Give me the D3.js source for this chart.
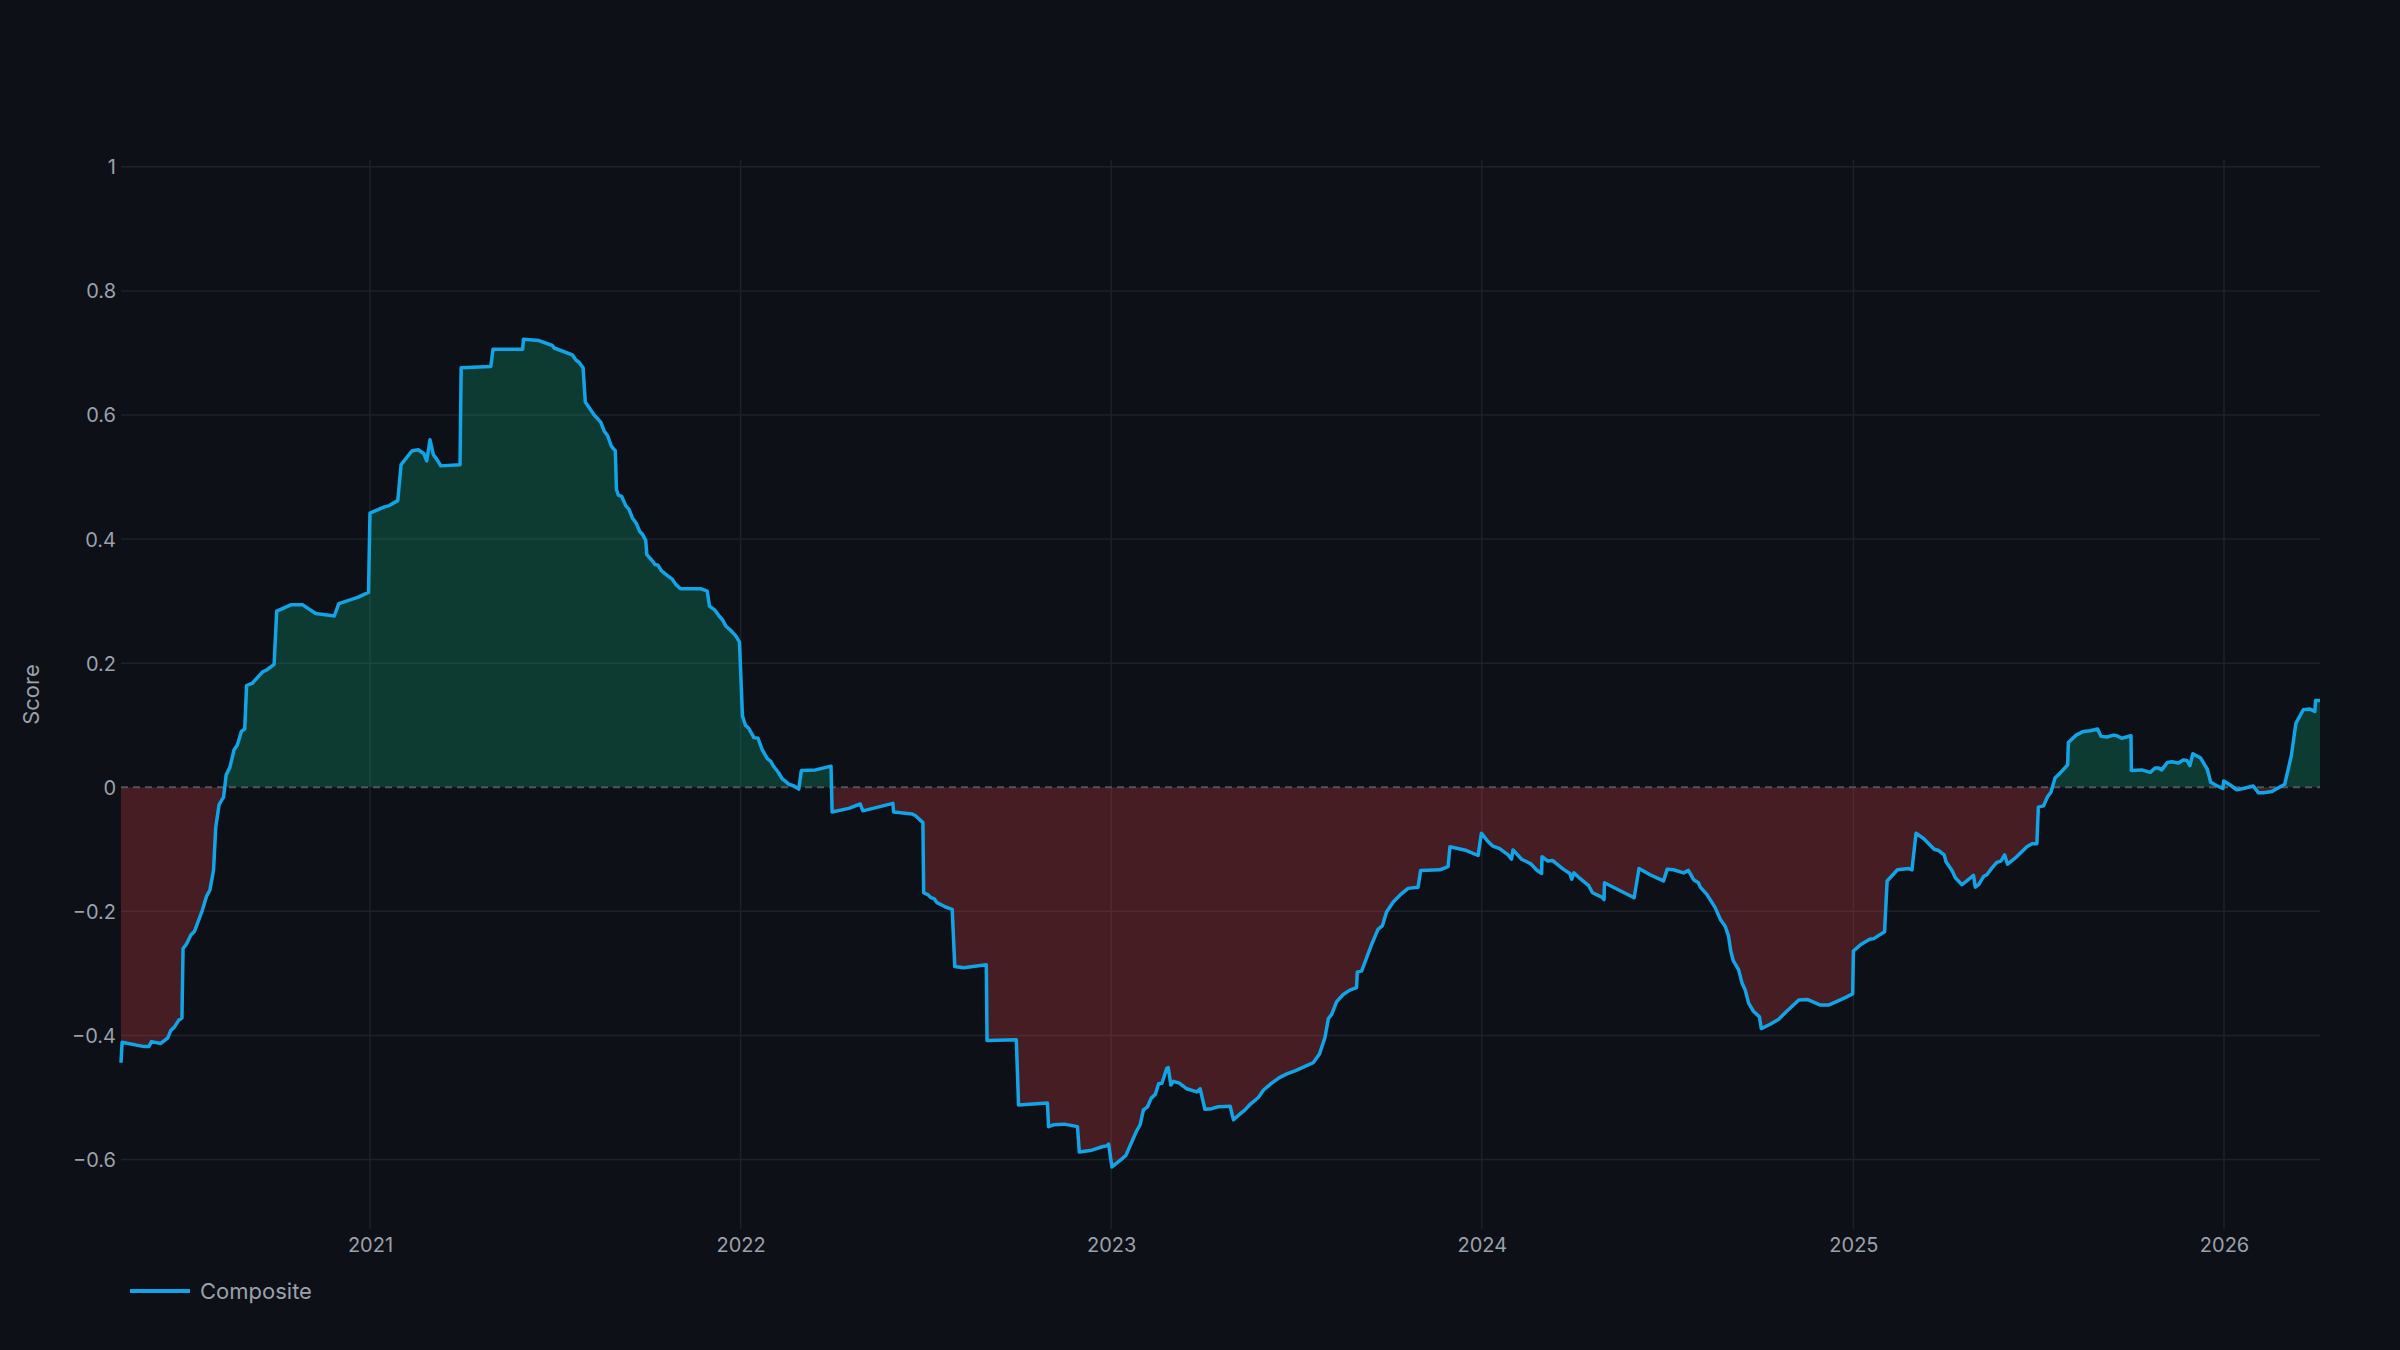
<!DOCTYPE html>
<html>
<head>
<meta charset="utf-8">
<script src="https://cdn.jsdelivr.net/npm/d3@7"></script>
<style>
  html, body { margin: 0; padding: 0; background: #0d1017; }
  svg { display: block; }
</style>
</head>
<body>
<div id="chart"></div>
<script>
// composite score, [decimal year, score]
const composite = [
  [2020.330, -0.444], [2020.333, -0.411], [2020.392, -0.418], [2020.405, -0.418], [2020.412, -0.410],
  [2020.437, -0.413], [2020.456, -0.404], [2020.464, -0.392], [2020.473, -0.387], [2020.486, -0.375],
  [2020.494, -0.372], [2020.497, -0.260], [2020.507, -0.252], [2020.518, -0.238], [2020.528, -0.232],
  [2020.549, -0.198], [2020.560, -0.176], [2020.569, -0.166], [2020.579, -0.134], [2020.585, -0.064],
  [2020.594, -0.028], [2020.606, -0.016], [2020.613, 0.020], [2020.623, 0.032], [2020.634, 0.060],
  [2020.643, 0.068], [2020.654, 0.090], [2020.663, 0.094], [2020.668, 0.164], [2020.684, 0.168],
  [2020.711, 0.186], [2020.722, 0.189], [2020.742, 0.198], [2020.749, 0.284], [2020.787, 0.294],
  [2020.819, 0.294], [2020.854, 0.280], [2020.904, 0.276], [2020.916, 0.296], [2020.967, 0.306],
  [2020.996, 0.314], [2021.000, 0.442], [2021.039, 0.452], [2021.052, 0.454], [2021.075, 0.462],
  [2021.084, 0.520], [2021.113, 0.542], [2021.130, 0.544], [2021.145, 0.538], [2021.153, 0.526],
  [2021.162, 0.560], [2021.171, 0.536], [2021.181, 0.528], [2021.191, 0.518], [2021.243, 0.520],
  [2021.246, 0.676], [2021.326, 0.678], [2021.332, 0.706], [2021.412, 0.706], [2021.414, 0.722],
  [2021.456, 0.720], [2021.492, 0.712], [2021.497, 0.708], [2021.546, 0.697], [2021.555, 0.689],
  [2021.564, 0.685], [2021.575, 0.676], [2021.581, 0.621], [2021.605, 0.600], [2021.623, 0.588],
  [2021.632, 0.574], [2021.641, 0.567], [2021.651, 0.550], [2021.662, 0.542], [2021.665, 0.480],
  [2021.670, 0.471], [2021.679, 0.469], [2021.690, 0.454], [2021.699, 0.448], [2021.708, 0.434],
  [2021.719, 0.425], [2021.728, 0.412], [2021.735, 0.408], [2021.744, 0.398], [2021.747, 0.375],
  [2021.759, 0.367], [2021.769, 0.359], [2021.777, 0.358], [2021.786, 0.349], [2021.801, 0.342],
  [2021.816, 0.335], [2021.825, 0.327], [2021.838, 0.320], [2021.892, 0.320], [2021.910, 0.316],
  [2021.916, 0.292], [2021.930, 0.286], [2021.942, 0.276], [2021.951, 0.270], [2021.960, 0.260],
  [2021.973, 0.253], [2021.987, 0.244], [2021.997, 0.234], [2022.005, 0.115], [2022.013, 0.100],
  [2022.022, 0.095], [2022.036, 0.080], [2022.047, 0.079], [2022.058, 0.061], [2022.072, 0.046],
  [2022.081, 0.042], [2022.090, 0.033], [2022.103, 0.023], [2022.112, 0.014], [2022.130, 0.005],
  [2022.144, 0.002], [2022.157, -0.003], [2022.164, 0.027], [2022.202, 0.028], [2022.244, 0.034],
  [2022.247, -0.040], [2022.292, -0.034], [2022.323, -0.027], [2022.330, -0.038], [2022.411, -0.026],
  [2022.413, -0.040], [2022.463, -0.043], [2022.472, -0.046], [2022.492, -0.057], [2022.494, -0.170],
  [2022.505, -0.173], [2022.514, -0.178], [2022.523, -0.180], [2022.530, -0.186], [2022.553, -0.193],
  [2022.571, -0.197], [2022.578, -0.289], [2022.602, -0.291], [2022.663, -0.286], [2022.665, -0.408],
  [2022.744, -0.407], [2022.750, -0.512], [2022.828, -0.509], [2022.831, -0.547], [2022.844, -0.544],
  [2022.873, -0.543], [2022.909, -0.547], [2022.914, -0.588], [2022.948, -0.585], [2022.978, -0.579],
  [2022.988, -0.578], [2022.993, -0.575], [2023.002, -0.612], [2023.029, -0.599], [2023.040, -0.593],
  [2023.056, -0.571], [2023.067, -0.556], [2023.078, -0.544], [2023.087, -0.520], [2023.098, -0.515],
  [2023.108, -0.501], [2023.119, -0.495], [2023.128, -0.478], [2023.137, -0.477], [2023.150, -0.453],
  [2023.154, -0.452], [2023.161, -0.480], [2023.168, -0.474], [2023.184, -0.477], [2023.204, -0.486],
  [2023.231, -0.491], [2023.240, -0.486], [2023.253, -0.519], [2023.271, -0.518], [2023.289, -0.515],
  [2023.321, -0.514], [2023.330, -0.536], [2023.343, -0.529], [2023.361, -0.520], [2023.375, -0.511],
  [2023.397, -0.500], [2023.411, -0.488], [2023.433, -0.477], [2023.454, -0.468], [2023.474, -0.462],
  [2023.496, -0.457], [2023.523, -0.450], [2023.545, -0.444], [2023.562, -0.430], [2023.577, -0.403],
  [2023.586, -0.373], [2023.595, -0.366], [2023.608, -0.346], [2023.626, -0.334], [2023.644, -0.327],
  [2023.662, -0.323], [2023.664, -0.298], [2023.676, -0.296], [2023.703, -0.253], [2023.720, -0.229],
  [2023.732, -0.223], [2023.743, -0.201], [2023.761, -0.185], [2023.779, -0.174], [2023.801, -0.163],
  [2023.828, -0.161], [2023.835, -0.134], [2023.887, -0.133], [2023.909, -0.128], [2023.914, -0.096],
  [2023.959, -0.102], [2023.990, -0.110], [2023.999, -0.074], [2024.016, -0.087], [2024.030, -0.095],
  [2024.048, -0.099], [2024.071, -0.109], [2024.080, -0.116], [2024.084, -0.101], [2024.107, -0.116],
  [2024.131, -0.123], [2024.147, -0.133], [2024.161, -0.139], [2024.162, -0.112], [2024.178, -0.119],
  [2024.190, -0.118], [2024.219, -0.132], [2024.237, -0.139], [2024.242, -0.148], [2024.248, -0.138],
  [2024.264, -0.147], [2024.287, -0.158], [2024.298, -0.170], [2024.323, -0.177], [2024.329, -0.181],
  [2024.330, -0.154], [2024.410, -0.178], [2024.423, -0.131], [2024.453, -0.141], [2024.471, -0.146],
  [2024.489, -0.151], [2024.499, -0.132], [2024.516, -0.133], [2024.543, -0.138], [2024.556, -0.134],
  [2024.570, -0.149], [2024.583, -0.154], [2024.588, -0.161], [2024.606, -0.173], [2024.628, -0.194],
  [2024.642, -0.213], [2024.655, -0.224], [2024.664, -0.240], [2024.670, -0.264], [2024.677, -0.280],
  [2024.691, -0.294], [2024.700, -0.315], [2024.709, -0.327], [2024.718, -0.348], [2024.731, -0.361],
  [2024.747, -0.370], [2024.752, -0.389], [2024.776, -0.382], [2024.799, -0.374], [2024.817, -0.363],
  [2024.835, -0.353], [2024.853, -0.343], [2024.876, -0.342], [2024.911, -0.351], [2024.933, -0.351],
  [2024.956, -0.345], [2024.978, -0.339], [2024.998, -0.333], [2025.000, -0.264], [2025.019, -0.254],
  [2025.044, -0.245], [2025.055, -0.244], [2025.084, -0.233], [2025.091, -0.151], [2025.119, -0.133],
  [2025.149, -0.131], [2025.158, -0.133], [2025.169, -0.074], [2025.190, -0.083], [2025.218, -0.100],
  [2025.230, -0.102], [2025.245, -0.109], [2025.250, -0.120], [2025.266, -0.134], [2025.275, -0.146],
  [2025.293, -0.157], [2025.306, -0.151], [2025.324, -0.142], [2025.329, -0.161], [2025.338, -0.157],
  [2025.351, -0.144], [2025.360, -0.141], [2025.374, -0.130], [2025.387, -0.121], [2025.398, -0.119],
  [2025.408, -0.109], [2025.416, -0.124], [2025.437, -0.114], [2025.468, -0.096], [2025.482, -0.091],
  [2025.495, -0.091], [2025.499, -0.032], [2025.513, -0.030], [2025.524, -0.015], [2025.533, -0.008],
  [2025.544, 0.015], [2025.558, 0.023], [2025.578, 0.036], [2025.580, 0.072], [2025.601, 0.084],
  [2025.621, 0.090], [2025.639, 0.091], [2025.659, 0.094], [2025.668, 0.082], [2025.684, 0.081],
  [2025.702, 0.084], [2025.711, 0.083], [2025.724, 0.079], [2025.749, 0.083], [2025.750, 0.027],
  [2025.778, 0.028], [2025.801, 0.024], [2025.814, 0.031], [2025.823, 0.031], [2025.832, 0.028],
  [2025.847, 0.040], [2025.859, 0.041], [2025.877, 0.039], [2025.890, 0.044], [2025.900, 0.043],
  [2025.908, 0.035], [2025.916, 0.054], [2025.937, 0.047], [2025.949, 0.035], [2025.955, 0.029],
  [2025.964, 0.008], [2025.982, 0.002], [2025.997, -0.002], [2025.999, 0.010], [2026.016, 0.004],
  [2026.034, -0.004], [2026.052, -0.002], [2026.079, 0.002], [2026.093, -0.009], [2026.106, -0.009],
  [2026.129, -0.007], [2026.164, 0.005], [2026.182, 0.052], [2026.194, 0.103], [2026.214, 0.125],
  [2026.232, 0.126], [2026.245, 0.122], [2026.247, 0.140], [2026.259, 0.140]
];

const seriesName = 'Composite';
const yTicks = [-0.6, -0.4, -0.2, 0, 0.2, 0.4, 0.6, 0.8, 1];
const xTickYears = [2021, 2022, 2023, 2024, 2025, 2026];
const yRange = [-0.712, 1.011];

const width = 2400;
const height = 1350;
const margin = { top: 160, right: 80, bottom: 121, left: 121 };
const innerWidth = width - margin.left - margin.right;
const innerHeight = height - margin.top - margin.bottom;

const colors = {
  bg: '#0d1017',
  grid: '#1d212a',
  text: '#9ba1aa',
  line: '#12a4e6',
  pos: 'rgba(16, 185, 129, 0.25)',
  neg: 'rgba(239, 68, 68, 0.25)',
  zero: '#50555d'
};
const font = 'Inter, "Noto Sans", sans-serif';

function yearToDate(t) {
  const yr = Math.floor(t);
  const start = Date.UTC(yr, 0, 1);
  const end = Date.UTC(yr + 1, 0, 1);
  return new Date(start + (t - yr) * (end - start));
}

const data = composite.map(([t, v]) => ({ date: yearToDate(t), value: v }));

const svg = d3.select('#chart').append('svg')
  .attr('width', width).attr('height', height)
  .style('background', colors.bg);
const g = svg.append('g').attr('transform', `translate(${margin.left},${margin.top})`);

const x = d3.scaleUtc().domain(d3.extent(data, (d) => d.date)).range([0, innerWidth]);
const y = d3.scaleLinear().domain(yRange).range([innerHeight, 0]);

// grid
const xTicks = xTickYears.map((yr) => new Date(Date.UTC(yr, 0, 1)));
g.append('g').selectAll('line').data(xTicks).join('line')
  .attr('x1', (d) => x(d)).attr('x2', (d) => x(d))
  .attr('y1', 0).attr('y2', innerHeight)
  .attr('stroke', colors.grid).attr('stroke-width', 1.5);
g.append('g').selectAll('line').data(yTicks.filter((v) => v !== 0)).join('line')
  .attr('x1', 0).attr('x2', innerWidth)
  .attr('y1', (d) => y(d)).attr('y2', (d) => y(d))
  .attr('stroke', colors.grid).attr('stroke-width', 1.5);

// fills, split at zero with clip rects
const defs = svg.append('defs');
defs.append('clipPath').attr('id', 'clip-pos').append('rect')
  .attr('x', 0).attr('y', 0).attr('width', innerWidth).attr('height', y(0));
defs.append('clipPath').attr('id', 'clip-neg').append('rect')
  .attr('x', 0).attr('y', y(0)).attr('width', innerWidth).attr('height', innerHeight - y(0));

const area = d3.area()
  .x((d) => x(d.date))
  .y0(y(0))
  .y1((d) => y(d.value));

g.append('path').datum(data).attr('d', area)
  .attr('fill', colors.pos).attr('clip-path', 'url(#clip-pos)');
g.append('path').datum(data).attr('d', area)
  .attr('fill', colors.neg).attr('clip-path', 'url(#clip-neg)');

// dashed zero line
g.append('line')
  .attr('x1', 0).attr('x2', innerWidth)
  .attr('y1', y(0)).attr('y2', y(0))
  .attr('stroke', colors.zero).attr('stroke-width', 2)
  .attr('stroke-dasharray', '7,5');

// composite line
const line = d3.line().x((d) => x(d.date)).y((d) => y(d.value));
g.append('path').datum(data).attr('d', line)
  .attr('fill', 'none')
  .attr('stroke', colors.line)
  .attr('stroke-width', 3.5)
  .attr('stroke-linejoin', 'round');

// axes
const xAxis = g.append('g').attr('transform', `translate(0,${innerHeight})`)
  .call(d3.axisBottom(x).tickValues(xTicks).tickFormat(d3.utcFormat('%Y')).tickSize(0).tickPadding(9));
const yAxis = g.append('g')
  .call(d3.axisLeft(y).tickValues(yTicks).tickFormat((d) => d3.format('')(d).replace('-', '\u2212')).tickSize(0).tickPadding(5));
[xAxis, yAxis].forEach((ax) => {
  ax.select('.domain').remove();
  ax.selectAll('text')
    .attr('fill', colors.text)
    .style('font-family', font)
    .style('font-size', '20px');
});
yAxis.selectAll('text').attr('dy', '0.35em');

g.append('text')
  .attr('transform', 'rotate(-90)')
  .attr('x', -innerHeight / 2).attr('y', -80)
  .attr('text-anchor', 'middle')
  .attr('dy', '-0.1em')
  .attr('fill', colors.text)
  .style('font-family', font)
  .style('font-size', '22px')
  .text('Score');

// legend
const legend = svg.append('g').attr('transform', 'translate(130,1291)');
legend.append('line')
  .attr('x1', 0).attr('x2', 60).attr('y1', 0).attr('y2', 0)
  .attr('stroke', colors.line).attr('stroke-width', 4);
legend.append('text')
  .attr('x', 70).attr('y', 0).attr('dy', '0.35em')
  .attr('fill', colors.text)
  .style('font-family', font)
  .style('font-size', '22px')
  .text(seriesName);
</script>
</body>
</html>
